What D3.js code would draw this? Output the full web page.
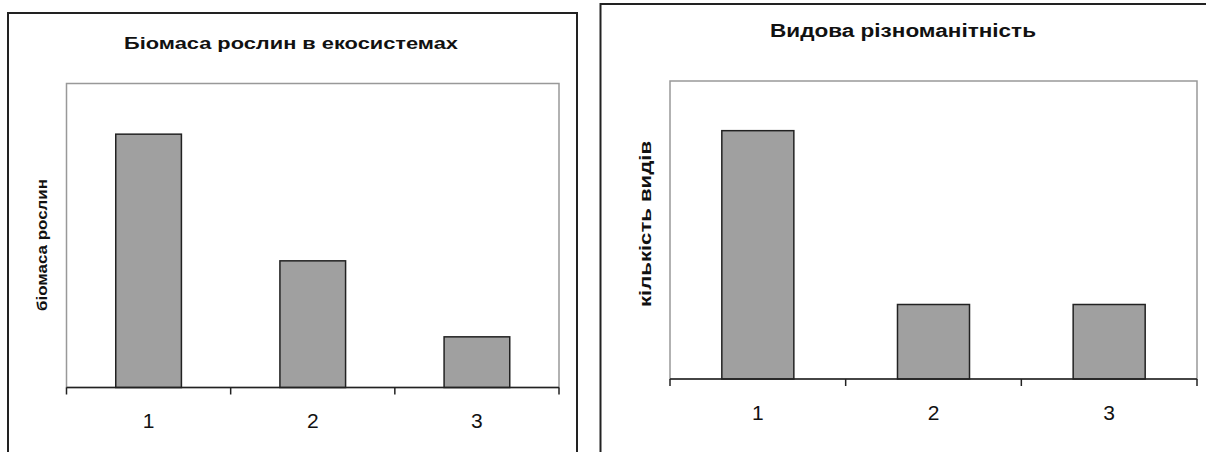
<!DOCTYPE html>
<html><head><meta charset="utf-8">
<script src="https://cdn.jsdelivr.net/npm/d3@7"></script>
<style>html,body{margin:0;padding:0;background:#fff;}svg{display:block;}</style>
</head><body>
<svg id="c" width="1206" height="452"></svg>
<script>
const categories = ["1", "2", "3"];
const biomassValues = [10, 5, 2];
const speciesValues = [10, 3, 3];
const yMax = 12;
const titles = ["Біомаса рослин в екосистемах", "Видова різноманітність"];
const yLabels = ["біомаса рослин", "кількість видів"];

const svg = d3.select("#c");
const font = "'Liberation Sans', Arial, sans-serif";

function chart(cfg) {
  const g = svg.append("g");
  g.append("rect").attr("x", cfg.frame[0]).attr("y", cfg.frame[1])
    .attr("width", cfg.frame[2]).attr("height", cfg.frame[3])
    .attr("fill", "none").attr("stroke", "#222").attr("stroke-width", 2);
  const x = d3.scaleBand().domain(categories).range([cfg.left, cfg.right])
    .paddingInner(cfg.pad).paddingOuter(cfg.pad / 2);
  const y = d3.scaleLinear().domain([0, yMax]).range([cfg.bottom, cfg.top]);
  g.append("rect").attr("x", cfg.left).attr("y", cfg.top)
    .attr("width", cfg.right - cfg.left).attr("height", cfg.bottom - cfg.top)
    .attr("fill", "none").attr("stroke", "#999").attr("stroke-width", 1.5);
  g.selectAll(".bar").data(cfg.values).join("rect")
    .attr("x", (d, i) => x(categories[i]))
    .attr("y", d => y(d))
    .attr("width", x.bandwidth())
    .attr("height", d => y(0) - y(d))
    .attr("fill", "#a0a0a0").attr("stroke", "#222").attr("stroke-width", 1.5);
  const ax = g.append("g").attr("transform", `translate(0,${cfg.bottom})`);
  ax.append("line").attr("x1", cfg.left).attr("x2", cfg.right)
    .attr("stroke", "#222").attr("stroke-width", 1.5);
  const step = x.step();
  const bounds = d3.range(categories.length + 1).map(i => cfg.left + i * step);
  ax.selectAll(".tk").data(bounds).join("line")
    .attr("x1", d => d).attr("x2", d => d).attr("y1", 0).attr("y2", 7)
    .attr("stroke", "#222").attr("stroke-width", 1.5);
  ax.selectAll(".lb").data(categories).join("text")
    .attr("x", d => x(d) + x.bandwidth() / 2).attr("y", cfg.labelDy)
    .attr("text-anchor", "middle").attr("font-family", font)
    .attr("font-size", 21).attr("fill", "#111").text(d => d);
  g.append("text").attr("x", cfg.titleX).attr("y", cfg.titleY)
    .attr("text-anchor", "middle").attr("font-family", font)
    .attr("font-weight", "bold").attr("font-size", cfg.titleSize)
    .attr("textLength", cfg.titleLen).attr("lengthAdjust", "spacingAndGlyphs")
    .attr("fill", "#111").text(cfg.title);
  g.append("text")
    .attr("transform", `translate(${cfg.ylX},${cfg.ylY}) rotate(-90)`)
    .attr("text-anchor", "middle").attr("font-family", font)
    .attr("font-weight", "bold").attr("font-size", cfg.ylSize)
    .attr("textLength", cfg.ylLen).attr("lengthAdjust", "spacingAndGlyphs")
    .attr("fill", "#111").text(cfg.ylabel);
}

chart({
  frame: [8, 13, 569, 460], left: 66.5, right: 559, top: 83.5, bottom: 387.5,
  pad: 0.6, values: biomassValues, labelDy: 40,
  title: titles[0], titleX: 291, titleY: 49, titleSize: 17, titleLen: 334,
  ylabel: yLabels[0], ylX: 47, ylY: 245, ylSize: 15, ylLen: 132
});
chart({
  frame: [600.5, 4, 620, 470], left: 670, right: 1197, top: 81, bottom: 379,
  pad: 0.59, values: speciesValues, labelDy: 40.5,
  title: titles[1], titleX: 903, titleY: 37, titleSize: 18, titleLen: 266,
  ylabel: yLabels[1], ylX: 651, ylY: 224, ylSize: 16, ylLen: 166
});
</script>
</body></html>
